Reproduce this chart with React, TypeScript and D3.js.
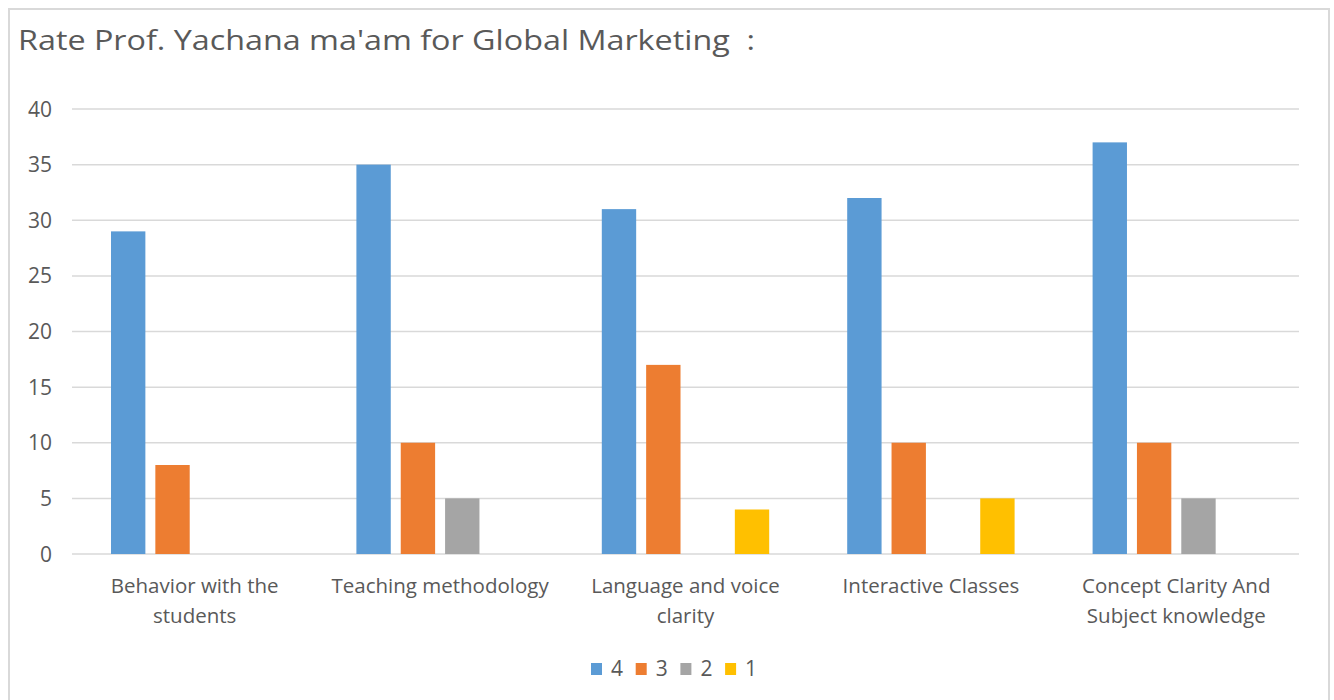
import React from "react";
import * as d3 from "d3";

const categories: string[][] = [
  ["Behavior with the", "students"],
  ["Teaching methodology"],
  ["Language and voice", "clarity"],
  ["Interactive Classes"],
  ["Concept Clarity And", "Subject knowledge"],
];
const seriesNames = ["4", "3", "2", "1"];
const seriesColors = ["#5b9bd5", "#ed7d31", "#a5a5a5", "#ffc000"];
const values4 = [29, 35, 31, 32, 37];
const values3 = [8, 10, 17, 10, 10];
const values2 = [0, 5, 0, 0, 5];
const values1 = [0, 0, 4, 5, 0];
const yTicks = [0, 5, 10, 15, 20, 25, 30, 35, 40];
const title = "Rate Prof. Yachana ma'am for Global Marketing  :";

const W = 1334;
const H = 700;
const FONT = "'Open Sans', 'Liberation Sans', sans-serif";

export default function App() {
  const series = [values4, values3, values2, values1];
  const left = 72;
  const right = 1299;
  const top = 109;
  const bottom = 554;
  const y = d3.scaleLinear().domain([0, 40]).range([bottom, top]);
  const x0 = d3
    .scaleBand<number>()
    .domain(categories.map((_, i) => i))
    .range([left, right])
    .paddingInner(0)
    .paddingOuter(0);
  const bw = x0.bandwidth();
  const x1 = d3
    .scaleBand<number>()
    .domain(seriesNames.map((_, i) => i))
    .range([39, bw - 39])
    .paddingInner(0.225)
    .paddingOuter(0);

  const legendStart = 591;
  const legendStep = 44.7;

  return (
    <svg
      width={W}
      height={H}
      style={{ position: "absolute", left: 0, top: 0, display: "block" }}
    >
      <rect x={0} y={0} width={W} height={H} fill="#ffffff" />
      <rect
        x={9}
        y={9}
        width={1320}
        height={700}
        fill="#ffffff"
        stroke="#d9d9d9"
        strokeWidth={2}
      />
      <text
        x={18}
        y={50}
        fontFamily={FONT}
        fontSize={28}
        fill="#595959"
        textLength={737}
        lengthAdjust="spacingAndGlyphs"
        style={{ whiteSpace: "pre" }}
      >
        {title}
      </text>
      {yTicks.map((t) => (
        <g key={t}>
          <line
            x1={left}
            x2={right}
            y1={y(t)}
            y2={y(t)}
            stroke="#d9d9d9"
            strokeWidth={1.5}
          />
          <text
            x={52}
            y={y(t)}
            dy="0.36em"
            textAnchor="end"
            fontFamily={FONT}
            fontSize={21}
            fill="#595959"
          >
            {t}
          </text>
        </g>
      ))}
      {categories.map((cat, ci) => (
        <g key={ci} transform={`translate(${x0(ci)},0)`}>
          {series.map((vals, si) =>
            vals[ci] > 0 ? (
              <rect
                key={si}
                x={x1(si)}
                y={y(vals[ci])}
                width={x1.bandwidth()}
                height={bottom - y(vals[ci])}
                fill={seriesColors[si]}
              />
            ) : null
          )}
          {cat.map((line, li) => (
            <text
              key={li}
              x={bw / 2}
              y={593 + li * 30}
              textAnchor="middle"
              fontFamily={FONT}
              fontSize={20.5}
              fill="#595959"
            >
              {line}
            </text>
          ))}
        </g>
      ))}
      {seriesNames.map((s, i) => {
        const lx = legendStart + i * legendStep;
        return (
          <g key={s}>
            <rect x={lx} y={663} width={11} height={12} fill={seriesColors[i]} />
            <text
              x={lx + 20}
              y={676}
              fontFamily={FONT}
              fontSize={21}
              fill="#595959"
            >
              {s}
            </text>
          </g>
        );
      })}
    </svg>
  );
}
